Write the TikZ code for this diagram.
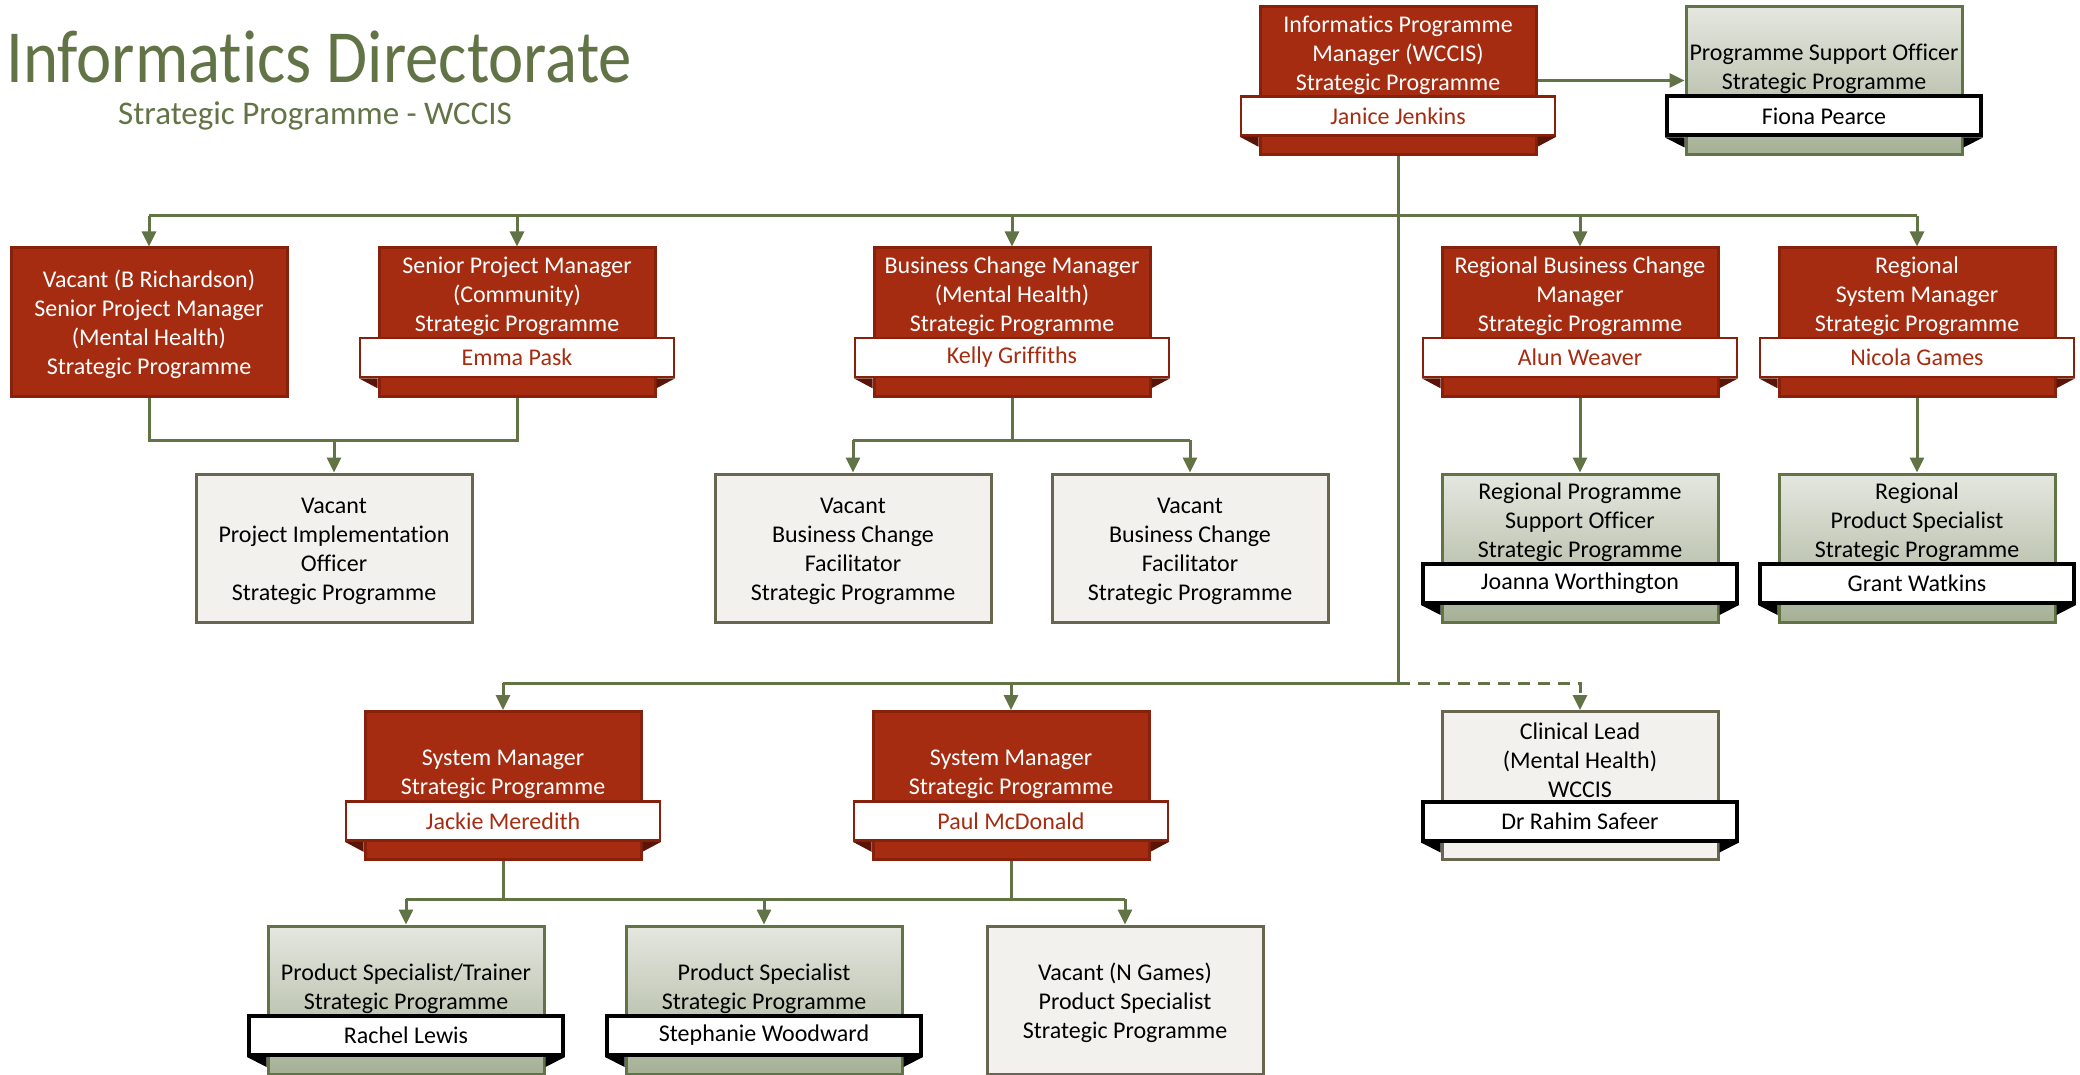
\documentclass[tikz,border=0pt]{standalone}
\usepackage{fontspec}
\setmainfont{Carlito}[Ligatures=NoCommon]
\usetikzlibrary{arrows.meta}
\definecolor{redfill}{RGB}{165,44,16}
\definecolor{redline}{RGB}{135,33,12}
\definecolor{redfold}{RGB}{90,20,8}
\definecolor{conn}{RGB}{98,116,70}
\definecolor{grayfill}{RGB}{242,241,238}
\definecolor{grayline}{RGB}{104,102,78}
\definecolor{gradtop}{RGB}{229,231,224}
\definecolor{gradbot}{RGB}{166,176,150}
\tikzset{
 box/.style={rectangle, minimum width=276pt, minimum height=148pt, line width=3pt, inner sep=0pt},
 redbox/.style={box, fill=redfill, draw=redline},
 graybox/.style={box, fill=grayfill, draw=grayline},
 gradbox/.style={box, top color=gradtop, bottom color=gradbot, draw=conn},
 txt/.style={align=center, inner sep=0pt, font=\fontsize{24}{29}\selectfont},
 redtxt/.style={txt, text=white},
 blacktxt/.style={txt, text=black},
 redband/.style={rectangle, minimum width=314pt, minimum height=39pt, fill=white, draw=redline, line width=2.5pt, text=redfill, font=\fontsize{24}{29}\selectfont, inner sep=0pt},
 blackband/.style={redband, draw=black, line width=4pt, text=black},
 line/.style={draw=conn, line width=3pt},
 arr/.style={line, -{Triangle[length=15pt,width=14pt]}},
}
\newcommand{\nameband}[4]{%
 \node[#2] (#1n) at ([yshift=-111pt]#1.north) {#4};
 \fill[#3] (#1n.south west) -- (#1n.south west -| #1.west) -- ++(0,10) -- cycle;
 \fill[#3] (#1n.south east) -- (#1n.south east -| #1.east) -- ++(0,10) -- cycle;
}
\begin{document}
\begin{tikzpicture}[x=1pt,y=-1pt]
\fill[white] (0,0) rectangle (2080,1075);
\useasboundingbox (0,0) rectangle (2080,1075);

% title
\node[anchor=base west, inner sep=0pt, text=conn, font=\fontsize{75}{80}\selectfont] (title) at (6,83) {\scalebox{0.89}[1]{Informatics Directorate}};
\node[anchor=base, inner sep=0pt, text=conn, font=\fontsize{33}{38}\selectfont] (subtitle) at (315,125) {Strategic Programme - WCCIS};

% boxes
\node[redbox] (pm) at (1398,80.5) {};
\node[gradbox] (pso) at (1824,80.5) {};
\node[redbox] (b1) at (149,322) {};
\node[redbox] (b2) at (517,322) {};
\node[redbox] (b3) at (1012,322) {};
\node[redbox] (b4) at (1580,322) {};
\node[redbox] (b5) at (1917,322) {};
\node[graybox] (c1) at (334,548) {};
\node[graybox] (c2) at (853,548) {};
\node[graybox] (c3) at (1190,548) {};
\node[gradbox] (c4) at (1580,548) {};
\node[gradbox] (c5) at (1917,548) {};
\node[redbox] (d1) at (503,785.5) {};
\node[redbox] (d2) at (1011,785.5) {};
\node[graybox] (d3) at (1580,785.5) {};
\node[gradbox] (e1) at (406,1000) {};
\node[gradbox] (e2) at (764,1000) {};
\node[graybox] (e3) at (1125,1000) {};

% connectors
\coordinate (bus1) at (0,216);
\coordinate (bus2) at (0,440);
\coordinate (bus3) at (0,683);
\coordinate (bus4) at (0,899);
\draw[arr] (pm.east) -- (pso.west);
\draw[line] (pm.south) -- (pm.south |- bus3);
\draw[line] (b1.north |- bus1) -- (b5.north |- bus1);
\foreach \n in {b1,b2,b3,b4,b5} \draw[arr] (\n.north |- bus1) -- (\n.north);
\draw[line] (b1.south) |- (b2.south |- bus2) -- (b2.south);
\draw[arr] (c1.north |- bus2) -- (c1.north);
\draw[line] (b3.south) -- (b3.south |- bus2);
\draw[line] (c2.north |- bus2) -- (c3.north |- bus2);
\draw[arr] (c2.north |- bus2) -- (c2.north);
\draw[arr] (c3.north |- bus2) -- (c3.north);
\draw[arr] (b4.south) -- (c4.north);
\draw[arr] (b5.south) -- (c5.north);
\draw[line] (d1.north |- bus3) -- (pm.south |- bus3);
\draw[arr] (d1.north |- bus3) -- (d1.north);
\draw[arr] (d2.north |- bus3) -- (d2.north);
\draw[arr, dash pattern=on 12pt off 8pt] (pm.south |- bus3) -| (d3.north);
\draw[line] (d1.south) -- (d1.south |- bus4);
\draw[line] (d2.south) -- (d2.south |- bus4);
\draw[line] (e1.north |- bus4) -- (e3.north |- bus4);
\draw[arr] (e1.north |- bus4) -- (e1.north);
\draw[arr] (e2.north |- bus4) -- (e2.north);
\draw[arr] (e3.north |- bus4) -- (e3.north);

% texts
\node[redtxt] (pmt) at ([yshift=-50pt]pm.north) {Informatics Programme\\Manager (WCCIS)\\Strategic Programme};
\nameband{pm}{redband}{redfold}{Janice Jenkins}
\node[blacktxt] (psot) at ([yshift=-64pt]pso.north) {Programme Support Officer\\Strategic Programme};
\nameband{pso}{blackband}{black}{Fiona Pearce}

\node[redtxt] (b1t) at ([yshift=-2pt]b1) {Vacant (B Richardson)\\Senior Project Manager\\(Mental Health)\\Strategic Programme};
\node[redtxt] (b2t) at ([yshift=-50pt]b2.north) {Senior Project Manager\\(Community)\\Strategic Programme};
\nameband{b2}{redband}{redfold}{Emma Pask}
\node[redtxt] (b3t) at ([yshift=-50pt]b3.north) {Business Change Manager\\(Mental Health)\\Strategic Programme};
\nameband{b3}{redband}{redfold}{Kelly Griffiths}
\node[redtxt] (b4t) at ([yshift=-50pt]b4.north) {Regional Business Change\\Manager\\Strategic Programme};
\nameband{b4}{redband}{redfold}{Alun Weaver}
\node[redtxt] (b5t) at ([yshift=-50pt]b5.north) {Regional\\System Manager\\Strategic Programme};
\nameband{b5}{redband}{redfold}{Nicola Games}

\node[blacktxt] (c1t) at ([yshift=-3pt]c1) {Vacant\\Project Implementation\\Officer\\Strategic Programme};
\node[blacktxt] (c2t) at ([yshift=-3pt]c2) {Vacant\\Business Change\\Facilitator\\Strategic Programme};
\node[blacktxt] (c3t) at ([yshift=-3pt]c3) {Vacant\\Business Change\\Facilitator\\Strategic Programme};
\node[blacktxt] (c4t) at ([yshift=-50pt]c4.north) {Regional Programme\\Support Officer\\Strategic Programme};
\nameband{c4}{blackband}{black}{Joanna Worthington}
\node[blacktxt] (c5t) at ([yshift=-50pt]c5.north) {Regional\\Product Specialist\\Strategic Programme};
\nameband{c5}{blackband}{black}{Grant Watkins}

\node[redtxt] (d1t) at ([yshift=-64pt]d1.north) {System Manager\\Strategic Programme};
\nameband{d1}{redband}{redfold}{Jackie Meredith}
\node[redtxt] (d2t) at ([yshift=-64pt]d2.north) {System Manager\\Strategic Programme};
\nameband{d2}{redband}{redfold}{Paul McDonald}
\node[blacktxt] (d3t) at ([yshift=-50pt]d3.north) {Clinical Lead\\(Mental Health)\\WCCIS};
\nameband{d3}{blackband}{black}{Dr Rahim Safeer}

\node[blacktxt] (e1t) at ([yshift=-64pt]e1.north) {Product Specialist/Trainer\\Strategic Programme};
\nameband{e1}{blackband}{black}{Rachel Lewis}
\node[blacktxt] (e2t) at ([yshift=-64pt]e2.north) {Product Specialist\\Strategic Programme};
\nameband{e2}{blackband}{black}{Stephanie Woodward}
\node[blacktxt] (e3t) at ([yshift=-3pt]e3) {Vacant (N Games)\\Product Specialist\\Strategic Programme};
\end{tikzpicture}
\end{document}
